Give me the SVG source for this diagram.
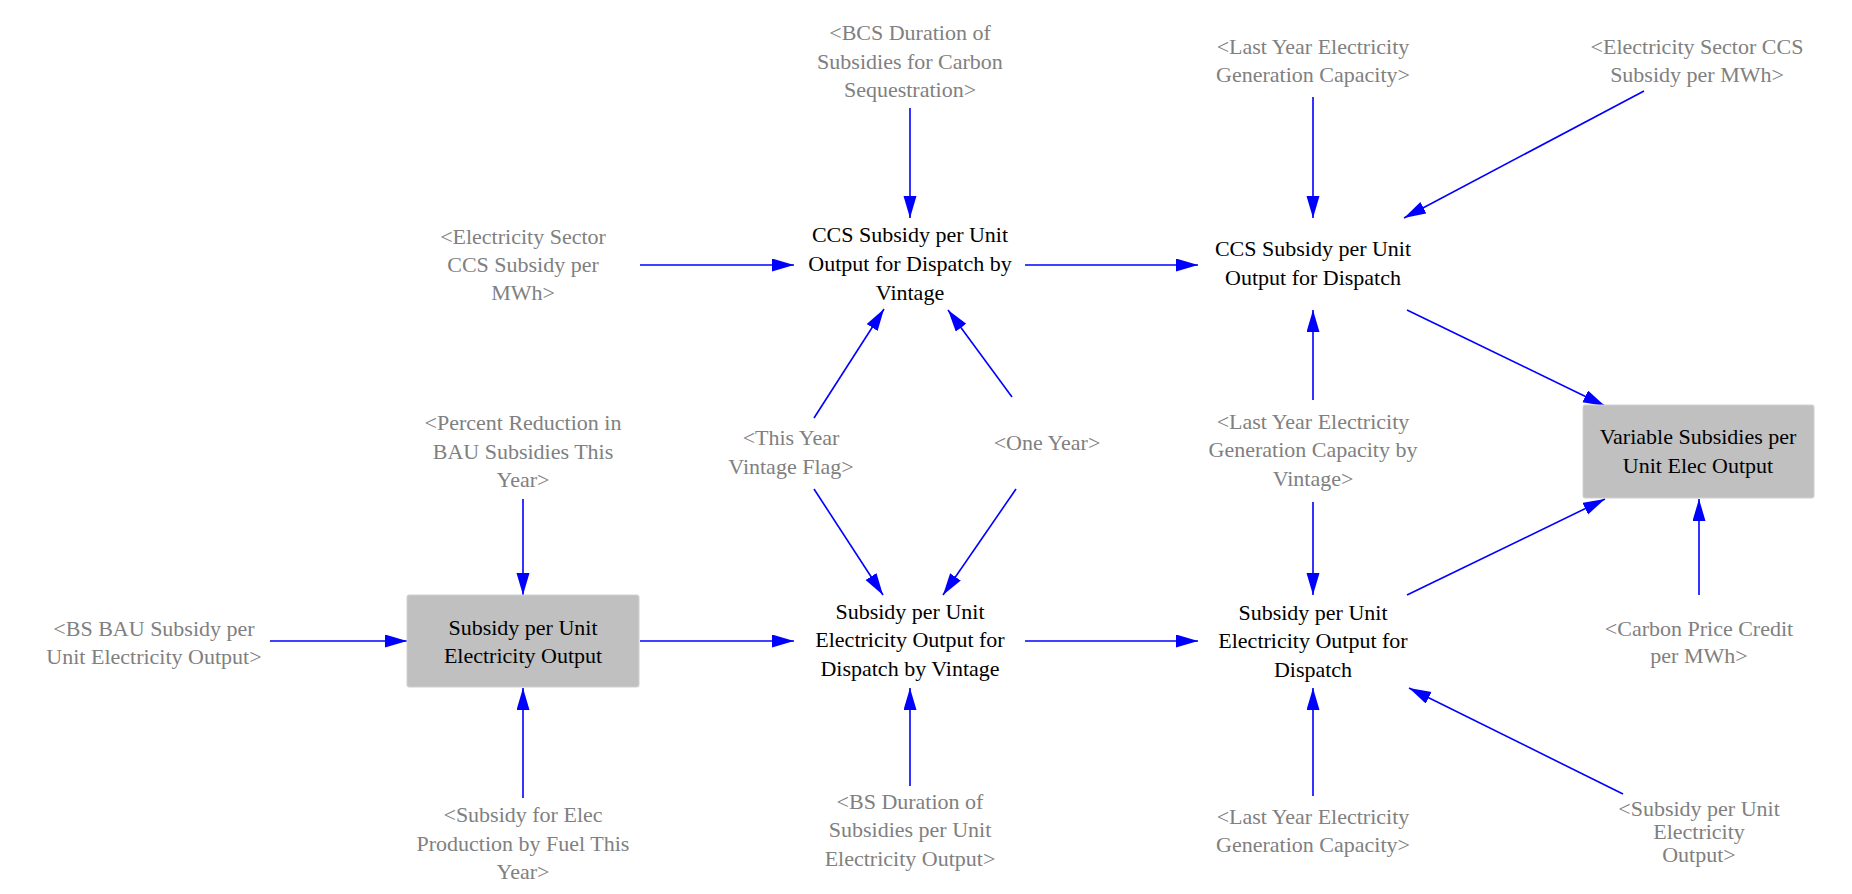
<svg xmlns="http://www.w3.org/2000/svg" width="1852" height="894" viewBox="0 0 1852 894">
<defs>
<marker id="ah" markerUnits="userSpaceOnUse" markerWidth="24" markerHeight="14" refX="22" refY="6.5" orient="auto">
<path d="M0,0 L22,6.5 L0,13 Z" fill="#0000ff"/>
</marker>
<style>
text{font-family:"Liberation Serif","Times New Roman",serif;font-size:22px;text-anchor:middle}
.sh{fill:#808080}
.nd{fill:#000000}
.box{fill:#c0c0c0;stroke:#d0d0d0;stroke-width:1}
.c{stroke:#0000ff;stroke-width:1.6;fill:none;marker-end:url(#ah)}
</style>
</defs>
<rect width="1852" height="894" fill="#ffffff"/>
<g id="connectors">
<line class="c" x1="910" y1="108" x2="910" y2="218"/>
<line class="c" x1="640" y1="265" x2="794" y2="265"/>
<line class="c" x1="1025" y1="265" x2="1198" y2="265"/>
<line class="c" x1="1313" y1="97" x2="1313" y2="218"/>
<line class="c" x1="1644" y1="91" x2="1404" y2="218"/>
<line class="c" x1="1407" y1="310" x2="1605" y2="406"/>
<line class="c" x1="1313" y1="400" x2="1313" y2="310"/>
<line class="c" x1="814" y1="418" x2="884" y2="309"/>
<line class="c" x1="1012" y1="397" x2="948" y2="310"/>
<line class="c" x1="523" y1="499" x2="523" y2="595"/>
<line class="c" x1="270" y1="641" x2="407" y2="641"/>
<line class="c" x1="640" y1="641" x2="794" y2="641"/>
<line class="c" x1="523" y1="798" x2="523" y2="688"/>
<line class="c" x1="814" y1="489" x2="883" y2="595"/>
<line class="c" x1="910" y1="786" x2="910" y2="688"/>
<line class="c" x1="1016" y1="489" x2="943" y2="595"/>
<line class="c" x1="1313" y1="502" x2="1313" y2="595"/>
<line class="c" x1="1025" y1="641" x2="1198" y2="641"/>
<line class="c" x1="1407" y1="595" x2="1605" y2="499"/>
<line class="c" x1="1699" y1="595" x2="1699" y2="499"/>
<line class="c" x1="1313" y1="796" x2="1313" y2="688"/>
<line class="c" x1="1623" y1="794" x2="1409" y2="688"/>
</g>
<g id="bcs_duration"><text class="sh" x="910"><tspan x="910" y="40">&lt;BCS Duration of</tspan><tspan x="910" y="68.5">Subsidies for Carbon</tspan><tspan x="910" y="97">Sequestration&gt;</tspan></text></g>
<g id="ccs_by_vintage"><text class="nd"><tspan x="910" y="242">CCS Subsidy per Unit</tspan><tspan x="910" y="271">Output for Dispatch by</tspan><tspan x="910" y="300">Vintage</tspan></text></g>
<g id="elec_ccs_left"><text class="sh"><tspan x="523" y="244">&lt;Electricity Sector</tspan><tspan x="523" y="272">CCS Subsidy per</tspan><tspan x="523" y="300">MWh&gt;</tspan></text></g>
<g id="ccs_dispatch"><text class="nd"><tspan x="1313" y="256">CCS Subsidy per Unit</tspan><tspan x="1313" y="285">Output for Dispatch</tspan></text></g>
<g id="last_year_cap_top"><text class="sh"><tspan x="1313" y="54">&lt;Last Year Electricity</tspan><tspan x="1313" y="82">Generation Capacity&gt;</tspan></text></g>
<g id="elec_ccs_right"><text class="sh"><tspan x="1697" y="54">&lt;Electricity Sector CCS</tspan><tspan x="1697" y="82">Subsidy per MWh&gt;</tspan></text></g>
<g id="variable_subsidies"><rect class="box" x="1583" y="405" width="231" height="93" rx="2"/><text class="nd"><tspan x="1698" y="444">Variable Subsidies per</tspan><tspan x="1698" y="473">Unit Elec Output</tspan></text></g>
<g id="percent_reduction"><text class="sh"><tspan x="523" y="430">&lt;Percent Reduction in</tspan><tspan x="523" y="459">BAU Subsidies This</tspan><tspan x="523" y="487">Year&gt;</tspan></text></g>
<g id="subsidy_unit_output"><rect class="box" x="407" y="595" width="232" height="92" rx="2"/><text class="nd"><tspan x="523" y="635">Subsidy per Unit</tspan><tspan x="523" y="663">Electricity Output</tspan></text></g>
<g id="bs_bau"><text class="sh"><tspan x="154" y="636">&lt;BS BAU Subsidy per</tspan><tspan x="154" y="664">Unit Electricity Output&gt;</tspan></text></g>
<g id="subsidy_elec_prod"><text class="sh"><tspan x="523" y="822">&lt;Subsidy for Elec</tspan><tspan x="523" y="851">Production by Fuel This</tspan><tspan x="523" y="879">Year&gt;</tspan></text></g>
<g id="vintage_flag"><text class="sh"><tspan x="791" y="445">&lt;This Year</tspan><tspan x="791" y="474">Vintage Flag&gt;</tspan></text></g>
<g id="one_year"><text class="sh" x="1047" y="450">&lt;One Year&gt;</text></g>
<g id="subsidy_by_vintage"><text class="nd"><tspan x="910" y="619">Subsidy per Unit</tspan><tspan x="910" y="647">Electricity Output for</tspan><tspan x="910" y="676">Dispatch by Vintage</tspan></text></g>
<g id="bs_duration"><text class="sh"><tspan x="910" y="809">&lt;BS Duration of</tspan><tspan x="910" y="837">Subsidies per Unit</tspan><tspan x="910" y="866">Electricity Output&gt;</tspan></text></g>
<g id="last_year_cap_vintage"><text class="sh"><tspan x="1313" y="429">&lt;Last Year Electricity</tspan><tspan x="1313" y="457">Generation Capacity by</tspan><tspan x="1313" y="486">Vintage&gt;</tspan></text></g>
<g id="subsidy_dispatch"><text class="nd"><tspan x="1313" y="620">Subsidy per Unit</tspan><tspan x="1313" y="648">Electricity Output for</tspan><tspan x="1313" y="677">Dispatch</tspan></text></g>
<g id="carbon_price"><text class="sh"><tspan x="1699" y="636">&lt;Carbon Price Credit</tspan><tspan x="1699" y="663">per MWh&gt;</tspan></text></g>
<g id="last_year_cap_bottom"><text class="sh"><tspan x="1313" y="824">&lt;Last Year Electricity</tspan><tspan x="1313" y="852">Generation Capacity&gt;</tspan></text></g>
<g id="subsidy_unit_output_shadow"><text class="sh"><tspan x="1699" y="816">&lt;Subsidy per Unit</tspan><tspan x="1699" y="839">Electricity</tspan><tspan x="1699" y="862">Output&gt;</tspan></text></g>
</svg>
